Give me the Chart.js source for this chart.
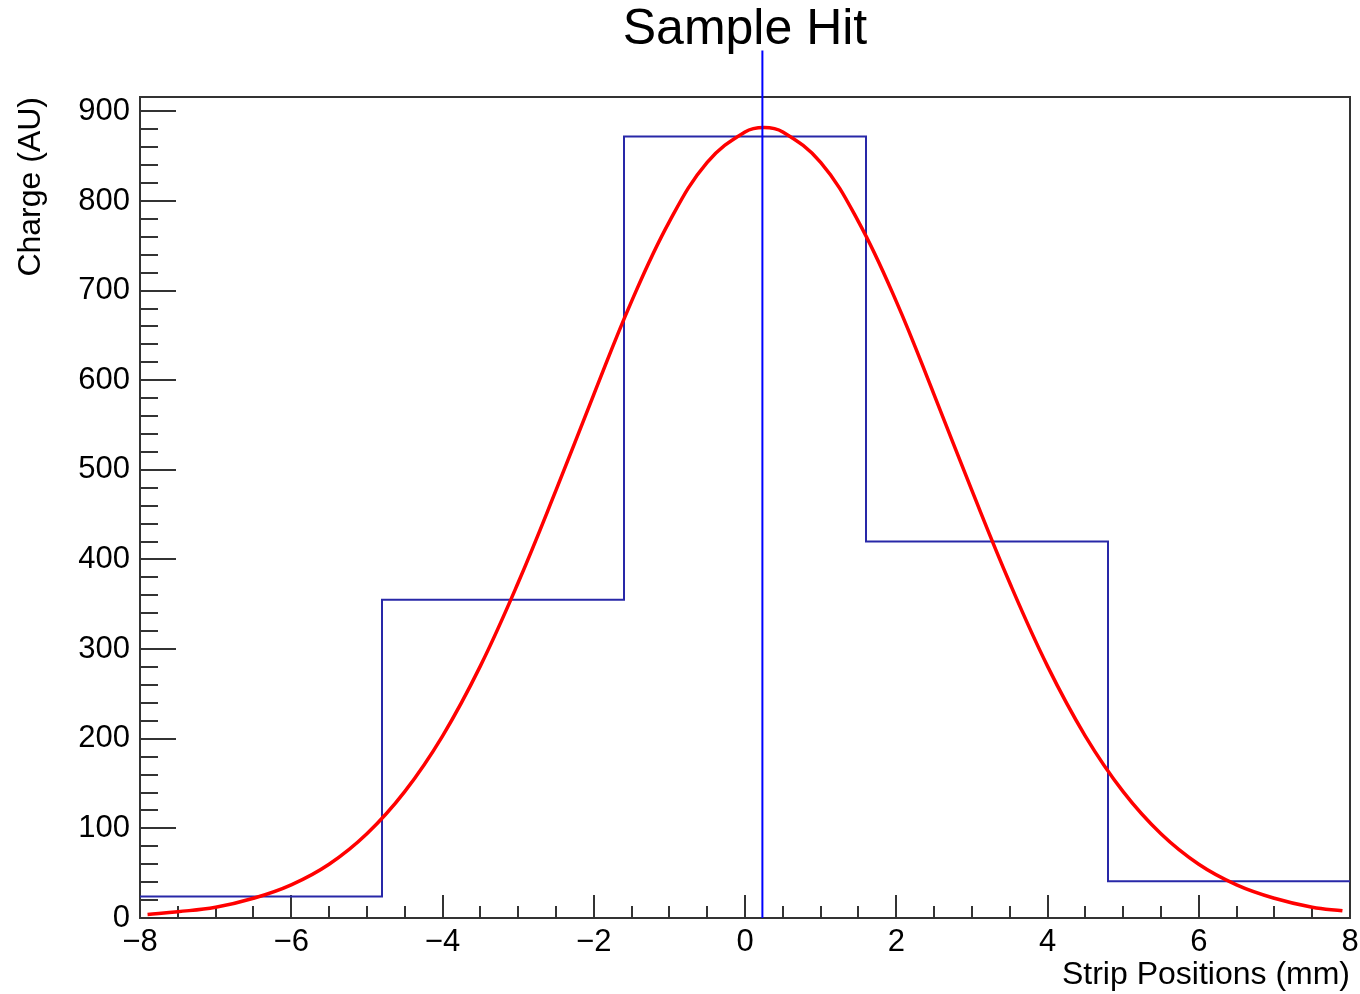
<!DOCTYPE html>
<html>
<head>
<meta charset="utf-8">
<title>Sample Hit</title>
<script src="https://cdn.jsdelivr.net/npm/chart.js@4/dist/chart.umd.min.js"></script>
<style>
  body { margin: 0; background: #fff; }
  #wrap { width: 1360px; height: 994px; }
</style>
</head>
<body>
<div id="wrap"><canvas id="grafico" width="1360" height="994"></canvas></div>
<script>
// histogram bins (strip positions, mm)
const binEdges = [-8, -4.8, -1.6, 1.6, 4.8, 8];
const binCounts = [24, 355, 872, 420, 41];

// gaussian fit curve
const fitX = [-7.9, -7.5, -7, -6.5, -6, -5.5, -5, -4.5, -4, -3.5, -3, -2.5, -2, -1.5, -1, -0.5, 0, 0.25,
              0.5, 1, 1.5, 2, 2.5, 3, 3.5, 4, 4.5, 5, 5.5, 6, 6.5, 7, 7.5, 7.9];
const fitY = [4, 7, 12, 22, 37, 60, 94, 141, 203, 281, 374, 477, 584, 688, 777, 843, 877, 882,
              877, 843, 777, 688, 584, 477, 374, 281, 203, 141, 94, 60, 37, 22, 12, 8];

// hit position marker
const markerX = 0.23;
const markerTop = 968;

// axes
const xTicks = [-8, -6, -4, -2, 0, 2, 4, 6, 8];
const yTicks = [0, 100, 200, 300, 400, 500, 600, 700, 800, 900];
const yMax = 916;

const FONT = '"Liberation Sans", Arial, Helvetica, sans-serif';
Chart.defaults.font.family = FONT;
Chart.defaults.color = '#000';

// pontos do histograma em degraus
const histData = binCounts.map((c, i) => ({ x: binEdges[i], y: c }));
histData.push({ x: binEdges[binEdges.length - 1], y: binCounts[binCounts.length - 1] });

const fitData = fitX.map((x, i) => ({ x, y: fitY[i] }));
const markerData = [{ x: markerX, y: 0 }, { x: markerX, y: markerTop }];

// moldura estilo ROOT, ticks para dentro
const moldura = {
  id: 'moldura',
  beforeDatasetsDraw(chart) {
    const { ctx, chartArea: a, scales: { x, y } } = chart;
    ctx.save();
    ctx.strokeStyle = '#333';
    ctx.lineWidth = 2;
    ctx.strokeRect(a.left, a.top, a.right - a.left, a.bottom - a.top);
    ctx.beginPath();
    for (let v = xTicks[0]; v <= xTicks[xTicks.length - 1] + 1e-9; v += 0.5) {
      const px = Math.round(x.getPixelForValue(v));
      const major = xTicks.some(t => Math.abs(t - v) < 1e-9);
      ctx.moveTo(px, a.bottom);
      ctx.lineTo(px, a.bottom - (major ? 23 : 12));
    }
    for (let v = 0; v <= yMax; v += 20) {
      const py = Math.round(y.getPixelForValue(v));
      const major = yTicks.includes(v);
      ctx.moveTo(a.left, py);
      ctx.lineTo(a.left + (major ? 36 : 18), py);
    }
    ctx.stroke();
    ctx.restore();
  }
};

new Chart(document.getElementById('grafico').getContext('2d'), {
  type: 'line',
  data: {
    datasets: [
      {
        label: 'marker',
        data: markerData,
        borderColor: '#0000ff',
        borderWidth: 2,
        pointRadius: 0,
        clip: false,
        order: 1
      },
      {
        label: 'fit',
        data: fitData,
        borderColor: '#ff0000',
        borderWidth: 3.5,
        pointRadius: 0,
        tension: 0.4,
        order: 2
      },
      {
        label: 'hist',
        data: histData,
        borderColor: '#2828a8',
        borderWidth: 2,
        pointRadius: 0,
        stepped: true,
        order: 3
      }
    ]
  },
  options: {
    responsive: false,
    animation: false,
    layout: { padding: { left: 0, right: 10, top: 0, bottom: 0 } },
    plugins: {
      legend: { display: false },
      tooltip: { enabled: false },
      title: {
        display: true,
        text: 'Sample Hit',
        fullSize: false,
        color: '#000',
        font: { size: 50, weight: 'normal' },
        padding: { top: 0, bottom: 37 }
      }
    },
    scales: {
      x: {
        type: 'linear',
        min: -8,
        max: 8,
        grid: { display: false, drawTicks: false },
        border: { display: false },
        afterBuildTicks: s => { s.ticks = xTicks.map(v => ({ value: v })); },
        afterFit: s => { s.height = 76; s.paddingLeft = 0; s.paddingRight = 0; },
        ticks: {
          autoSkip: false,
          maxRotation: 0,
          padding: 6,
          font: { size: 31 },
          callback: v => (v < 0 ? '\u2212' + Math.abs(v) : String(v))
        },
        title: {
          display: true,
          text: 'Strip Positions (mm)',
          align: 'end',
          font: { size: 32 },
          padding: { top: 0, bottom: 0 }
        }
      },
      y: {
        type: 'linear',
        min: 0,
        max: yMax,
        grid: { display: false, drawTicks: false },
        border: { display: false },
        afterBuildTicks: s => { s.ticks = yTicks.map(v => ({ value: v })); },
        afterFit: s => { s.width = 140; s.paddingTop = 0; s.paddingBottom = 0; },
        ticks: {
          autoSkip: false,
          padding: 10,
          font: { size: 31 }
        },
        title: {
          display: true,
          text: 'Charge (AU)',
          align: 'end',
          font: { size: 32 },
          padding: { top: 12, bottom: 0 }
        }
      }
    }
  },
  plugins: [moldura]
});
</script>
</body>
</html>
